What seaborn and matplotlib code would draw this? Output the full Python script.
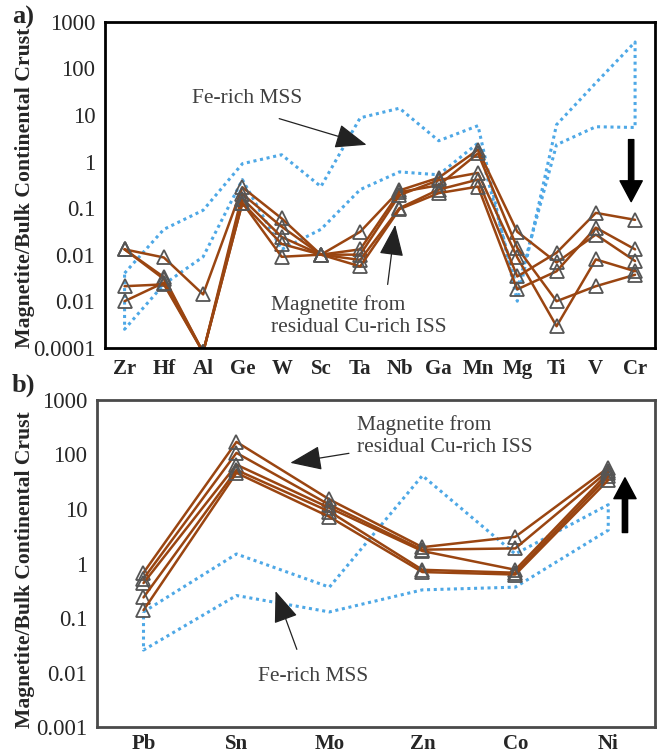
import seaborn as sns
import matplotlib.pyplot as plt
import pandas as pd
import numpy as np

# ---- panel a data ----
elements_a = ['Zr', 'Hf', 'Al', 'Ge', 'W', 'Sc', 'Ta', 'Nb', 'Ga', 'Mn', 'Mg', 'Ti', 'V', 'Cr']
iss_a1 = [0.013, 0.0087, 0.0014, 0.28, 0.06, 0.01, 0.031, 0.24, 0.45, 1.8, 0.031, 0.0068, 0.027, 0.0073]
iss_a2 = [0.013, 0.0033, 0.00008, 0.2, 0.04, 0.01, 0.013, 0.22, 0.31, 1.5, 0.014, 0.001, 0.0021, 0.0037]
iss_a3 = [0.013, 0.003, 0.00008, 0.16, 0.024, 0.01, 0.01, 0.19, 0.4, 0.57, 0.0087, 0.00029, 0.0079, 0.0044]
iss_a4 = [0.0021, 0.0023, 0.00008, 0.13, 0.017, 0.01, 0.0077, 0.1, 0.25, 0.41, 0.0034, 0.011, 0.079, 0.056]
iss_a5 = [0.001, 0.0025, 0.00008, 0.13, 0.009, 0.01, 0.0056, 0.095, 0.21, 0.29, 0.0018, 0.0044, 0.038, 0.013]
mss_a_upper = [0.004, 0.035, 0.09, 0.9, 1.4, 0.29, 8.7, 14, 2.8, 5.9, 0.001, 6.2, 49, 370]
mss_a_lower = [0.00025, 0.0023, 0.009, 0.41, 0.013, 0.035, 0.25, 0.6, 0.52, 2.5, 0.0018, 2.3, 5.6, 5.4]
yticklabels_a = ['0.0001', '0.01', '0.01', '0.1', '1', '10', '100', '1000']

# ---- panel b data ----
elements_b = ['Pb', 'Sn', 'Mo', 'Zn', 'Co', 'Ni']
iss_b1 = [0.68, 170, 15, 2.0, 3.1, 57]
iss_b2 = [0.53, 107, 12, 1.8, 1.9, 50]
iss_b3 = [0.44, 65, 10.5, 1.7, 0.77, 46]
iss_b4 = [0.24, 52, 9, 0.77, 0.68, 40]
iss_b5 = [0.14, 46, 7.2, 0.7, 0.63, 34]
mss_b_upper = [0.13, 1.5, 0.37, 41, 1.5, 12]
mss_b_lower = [0.026, 0.26, 0.13, 0.33, 0.37, 4.1]
yticklabels_b = ['0.001', '0.01', '0.1', '1', '10', '100', '1000']

sns.set_style('white')
plt.rcParams['font.family'] = ['Liberation Serif', 'DejaVu Serif']

BROWN = '#9a4511'
BLUE = '#4ea8e6'
GREY_TXT = '#404040'


def iss_frame(series):
    rows = []
    for k, vals in enumerate(series):
        for i, v in enumerate(vals):
            rows.append({'pos': i, 'value': v, 'sample': k})
    return pd.DataFrame(rows)


def mss_frame(upper, lower):
    # closed envelope: upper left->right, lower right->left
    n = len(upper)
    xs = list(range(n)) + list(range(n - 1, -1, -1)) + [0]
    ys = list(upper) + list(lower[::-1]) + [upper[0]]
    return pd.DataFrame({'pos': xs, 'value': ys})


def draw_panel(ax, elements, series, upper, lower, ylim, ytl, spine_col, xpad, lab_fs):
    mss = mss_frame(upper, lower)
    sns.lineplot(data=mss, x='pos', y='value', sort=False, estimator=None,
                 color=BLUE, lw=2.2, ls=(0, (1, 1.2)), ax=ax)
    df = iss_frame(series)
    sns.lineplot(data=df, x='pos', y='value', units='sample', estimator=None,
                 color=BROWN, lw=1.8, marker='^', markersize=9.5,
                 markerfacecolor='none', markeredgecolor='#555555',
                 markeredgewidth=1.3, ax=ax)
    ax.set_yscale('log')
    ax.set_ylim(*ylim)
    n = len(elements)
    ax.set_xlim(-0.5, n - 0.5)
    decades = 10.0 ** np.arange(np.log10(ylim[0]), np.log10(ylim[1]) + 1)
    ax.set_yticks(decades)
    ax.set_yticklabels(ytl, fontsize=16.5)
    ax.yaxis.set_minor_locator(plt.NullLocator())
    ax.set_xticks(range(n))
    ax.set_xticklabels(elements, fontsize=15, fontweight='bold')
    ax.set_xticks(np.arange(-0.5, n), minor=True)
    ax.tick_params(axis='x', which='major', length=0, pad=xpad)
    ax.tick_params(axis='x', which='minor', length=6, width=1.3, direction='out', color=spine_col)
    ax.tick_params(axis='y', which='major', length=6, width=1.3, direction='out', color=spine_col, pad=1)
    ax.set_xlabel('')
    ax.set_ylabel('Magnetite/Bulk Continental Crust', fontsize=lab_fs, fontweight='bold')
    for s in ax.spines.values():
        s.set_color(spine_col)
        s.set_linewidth(2)


fig = plt.figure(figsize=(6.6, 7.56), dpi=100)
ax_a = fig.add_axes([0.159, 0.540, 0.833, 0.431])
ax_b = fig.add_axes([0.147, 0.038, 0.845, 0.433])

draw_panel(ax_a, elements_a, [iss_a1, iss_a2, iss_a3, iss_a4, iss_a5],
           mss_a_upper, mss_a_lower, (1e-4, 1e3), yticklabels_a, 'black', 8, 15.7)
draw_panel(ax_b, elements_b, [iss_b1, iss_b2, iss_b3, iss_b4, iss_b5],
           mss_b_upper, mss_b_lower, (1e-3, 1e3), yticklabels_b, '#4a4a4a', 5, 15.6)
ax_a.yaxis.set_label_coords(-0.127, 0.49)
ax_b.yaxis.set_label_coords(-0.111, 0.48)

thin = dict(arrowstyle='-|>, head_length=0.9, head_width=0.35', color='#222222',
            lw=0.9, mutation_scale=22)
big = dict(arrowstyle='simple, head_width=1.6, head_length=1.5, tail_width=0.38',
           color='black', mutation_scale=10)

# annotations panel a
ax_a.text(3.13, 23, 'Fe-rich MSS', fontsize=15.5, color=GREY_TXT, ha='center', va='center')
ax_a.annotate('', xy=(6.23, 2.2), xytext=(3.87, 8.7), arrowprops=thin)
ax_a.text(3.74, 0.00048, 'Magnetite from\nresidual Cu-rich ISS', fontsize=15.5,
          color=GREY_TXT, ha='left', va='center', linespacing=1.15)
ax_a.annotate('', xy=(6.9, 0.05), xytext=(6.69, 0.002), arrowprops=thin)
ax_a.annotate('', xy=(12.9, 0.12), xytext=(12.9, 3.4), arrowprops=big)

# annotations panel b
ax_b.text(2.3, 218, 'Magnetite from\nresidual Cu-rich ISS', fontsize=15.5,
          color=GREY_TXT, ha='left', va='center', linespacing=1.15)
ax_b.annotate('', xy=(1.55, 69), xytext=(2.24, 107), arrowprops=thin)
ax_b.text(1.82, 0.0087, 'Fe-rich MSS', fontsize=15.5, color=GREY_TXT, ha='center', va='center')
ax_b.annotate('', xy=(1.41, 0.35), xytext=(1.66, 0.024), arrowprops=thin)
ax_b.annotate('', xy=(5.18, 42), xytext=(5.18, 3.3), arrowprops=big)

fig.text(0.018, 0.977, 'a)', fontsize=19, fontweight='bold', ha='left', va='center')
fig.text(0.018, 0.490, 'b)', fontsize=19, fontweight='bold', ha='left', va='center')

fig.savefig('out.png', dpi=100)
